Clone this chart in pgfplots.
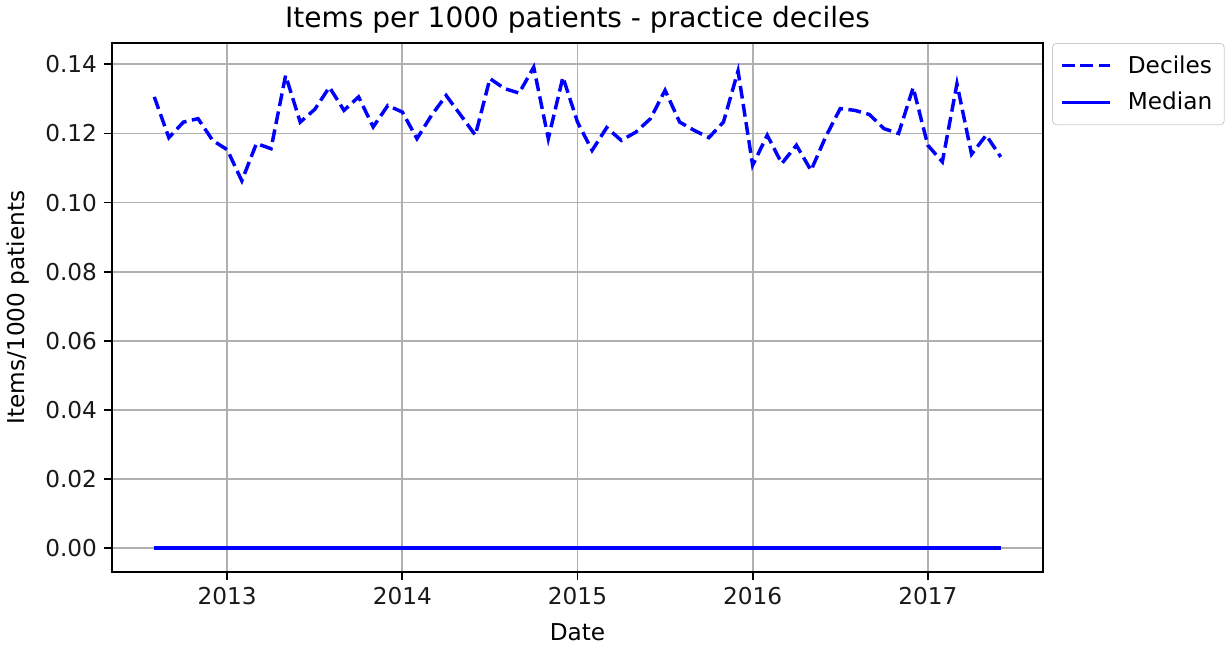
\documentclass[border=0pt]{standalone}
\usepackage{fontspec}
\setmainfont{DejaVu Sans}
\usepackage{pgfplots}
\usepackage{pgfplotstable}
\pgfplotsset{compat=1.18}
\definecolor{mplgrid}{RGB}{176,176,176}
\definecolor{mplleg}{RGB}{204,204,204}
\pgfplotstableread{
x hi lo med
2012.5833 0.1306 0 0
2012.6667 0.1188 0 0
2012.7500 0.1233 0 0
2012.8333 0.1243 0 0
2012.9167 0.1180 0 0
2013.0000 0.1153 0 0
2013.0833 0.1063 0 0
2013.1667 0.1171 0 0
2013.2500 0.1156 0 0
2013.3333 0.1368 0 0
2013.4167 0.1233 0 0
2013.5000 0.1270 0 0
2013.5833 0.1334 0 0
2013.6667 0.1267 0 0
2013.7500 0.1306 0 0
2013.8333 0.1219 0 0
2013.9167 0.1281 0 0
2014.0000 0.1262 0 0
2014.0833 0.1185 0 0
2014.1667 0.1253 0 0
2014.2500 0.1310 0 0
2014.3333 0.1253 0 0
2014.4167 0.1195 0 0
2014.5000 0.1359 0 0
2014.5833 0.1330 0 0
2014.6667 0.1317 0 0
2014.7500 0.1392 0 0
2014.8333 0.1185 0 0
2014.9167 0.1363 0 0
2015.0000 0.1233 0 0
2015.0833 0.1151 0 0
2015.1667 0.1217 0 0
2015.2500 0.1180 0 0
2015.3333 0.1204 0 0
2015.4167 0.1243 0 0
2015.5000 0.1325 0 0
2015.5833 0.1233 0 0
2015.6667 0.1209 0 0
2015.7500 0.1188 0 0
2015.8333 0.1233 0 0
2015.9167 0.1381 0 0
2016.0000 0.1108 0 0
2016.0833 0.1195 0 0
2016.1667 0.1113 0 0
2016.2500 0.1166 0 0
2016.3333 0.1093 0 0
2016.4167 0.1190 0 0
2016.5000 0.1272 0 0
2016.5833 0.1267 0 0
2016.6667 0.1255 0 0
2016.7500 0.1214 0 0
2016.8333 0.1200 0 0
2016.9167 0.1333 0 0
2017.0000 0.1166 0 0
2017.0833 0.1118 0 0
2017.1667 0.1344 0 0
2017.2500 0.1140 0 0
2017.3333 0.1195 0 0
2017.4167 0.1132 0 0
}\data
\begin{document}
\begin{tikzpicture}
\useasboundingbox (-56pt,-38.5pt) rectangle (556.5pt,286pt);
\begin{axis}[
  scale only axis, width=465.5pt, height=264.5pt,
  xmin=2012.342, xmax=2017.658, ymin=-0.00696, ymax=0.1462,
  xtick={2013,2014,2015,2016,2017},
  ytick={0,0.02,0.04,0.06,0.08,0.1,0.12,0.14},
  scaled y ticks=false, scaled x ticks=false,
  /pgf/number format/assume math mode=true,
  xticklabel style={/pgf/number format/1000 sep={}},
  yticklabel style={/pgf/number format/fixed, /pgf/number format/precision=2, /pgf/number format/fixed zerofill},
  tick label style={font=\fontsize{11.6}{13}\selectfont, text=black!90},
  label style={font=\fontsize{11.6}{13}\selectfont},
  title style={font=\fontsize{14}{16}\selectfont, at={(axis description cs:0.5,1)}, anchor=center, yshift=5.5pt},
  title={Items per 1000 patients - practice deciles},
  xlabel={Date}, ylabel={Items/1000 patients},
  xlabel style={at={(axis description cs:0.5,0)}, anchor=center, yshift=-30pt},
  ylabel style={at={(axis description cs:0,0.5)}, anchor=center, yshift=47pt},
  axis line style={black, line width=0.92pt},
  tick style={black, line width=0.92pt},
  major tick length=4pt, tick align=outside, tick pos=left,
  grid=major, major grid style={mplgrid, line width=0.92pt},
  legend style={at={(1,1)}, anchor=north west, xshift=4.5pt, draw=mplleg, rounded corners=2pt,
    font=\fontsize{11.6}{13}\selectfont, row sep=4pt, inner xsep=4pt, inner ysep=4pt,
    /tikz/every odd column/.append style={column sep=6pt}},
  legend cell align=left,
  legend image code/.code={\draw[#1] (0pt,0pt) -- (24pt,0pt);},
]
\addplot[blue, line width=1.73pt, dash pattern=on 6.4pt off 2.76pt] table[x=x, y=hi] {\data};
\addlegendentry{Deciles}
\addplot[blue, line width=1.73pt] table[x=x, y=med] {\data};
\addlegendentry{Median}
\addplot[blue, line width=1.73pt, dash pattern=on 6.4pt off 2.76pt, forget plot] table[x=x, y=lo] {\data};
\end{axis}
\end{tikzpicture}
\end{document}
